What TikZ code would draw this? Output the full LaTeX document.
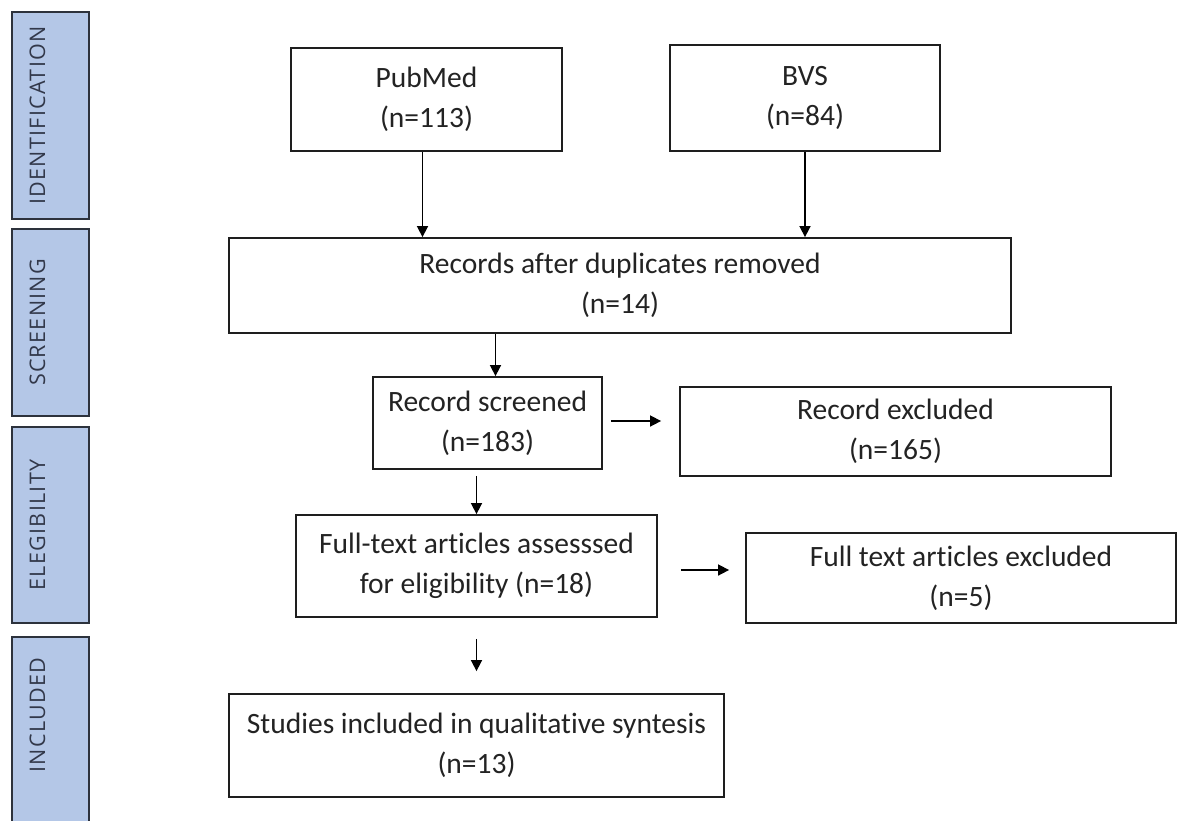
\documentclass[tikz,border=0pt]{standalone}
\usepackage{fontspec}
\setmainfont{Carlito}[Ligatures=NoCommon]
\newfontfamily\etapafont[LetterSpace=6]{Open Sans}
\usetikzlibrary{arrows.meta}
\begin{document}
\begin{tikzpicture}[x=1pt,y=-1pt,
	caja/.style={draw=vienhop,line width=1.8pt,rectangle,inner sep=0pt,align=center,text=chuxam,font=\fontsize{29.5}{40}\selectfont},
	etapa/.style={draw=vienthe,fill=xanhbang,line width=1.8pt,rectangle,inner sep=0pt,minimum width=77pt},
	etapatxt/.style={rotate=90,inner sep=0pt,text=chuthe,font=\etapafont\fontsize{21.5}{24}\selectfont},
	flecha/.style={line width=1.6pt,-{Triangle[width=11pt,length=11pt]}}]
	\definecolor{xanhbang}{RGB}{180,199,231}
	\definecolor{vienthe}{RGB}{45,50,60}
	\definecolor{chuthe}{RGB}{50,56,74}
	\definecolor{vienhop}{RGB}{30,30,30}
	\definecolor{chuxam}{RGB}{35,35,35}
	
	\useasboundingbox[fill=white] (0,0) rectangle (1179,820);
	
	%Etapas
	\node[etapa,minimum height=207pt] (ident) at (50.5,115.5) {};
	\node[etapa,minimum height=187pt] (cribado) at (50.5,322.5) {};
	\node[etapa,minimum height=196pt] (eleg) at (50.5,525) {};
	\node[etapa,minimum height=196pt] (incl) at (50.5,735) {};
	\node[etapatxt] at ([xshift=-13pt]ident.center) {IDENTIFICATION};
	\node[etapatxt] at ([xshift=-13pt]cribado.center) {SCREENING};
	\node[etapatxt] at ([xshift=-13pt]eleg.center) {ELEGIBILITY};
	\node[etapatxt] at ([xshift=-13pt,yshift=20pt]incl.center) {INCLUDED};
	
	%Cajas
	\node[caja,minimum width=271pt,minimum height=103pt] (pubmed) at (426.5,99.5) {PubMed\\(n=113)};
	\node[caja,minimum width=270pt,minimum height=106pt] (bvs) at (805,98) {BVS\\(n=84)};
	\node[caja,minimum width=782pt,minimum height=95pt] (registros) at (620,285.5) {Records after duplicates removed\\(n=14)};
	\node[caja,minimum width=229pt,minimum height=92pt] (tamizados) at (487.5,423) {Record screened\\(n=183)};
	\node[caja,minimum width=431pt,minimum height=89pt] (excluidos) at (895.5,431.5) {Record excluded\\(n=165)};
	\node[caja,minimum width=361pt,minimum height=102pt] (texto) at (476.5,566) {Full-text articles assesssed\\for eligibility (n=18)};
	\node[caja,minimum width=430pt,minimum height=90pt] (textoexcl) at (961,578) {Full text articles excluded\\(n=5)};
	\node[caja,minimum width=495pt,minimum height=103pt] (incluidos) at (476.5,745.5) {Studies included in qualitative syntesis\\(n=13)};
	
	%Flechas
	\draw[flecha] ([xshift=-4pt]pubmed.south) -- ([xshift=-4pt]pubmed.south |- registros.north);
	\draw[flecha] (bvs.south) -- (bvs.south |- registros.north);
	\draw[flecha] ([xshift=8pt]tamizados.north |- registros.south) -- ([xshift=8pt]tamizados.north);
	\draw[flecha,shorten <=8pt,shorten >=18pt] ([yshift=2pt]tamizados.east) -- ([yshift=2pt]tamizados.east -| excluidos.west);
	\draw[flecha,shorten <=6pt] (tamizados.south -| texto.north) -- (texto.north);
	\draw[flecha,shorten <=23pt,shorten >=16pt] ([yshift=-4pt]texto.east) -- ([yshift=-4pt]texto.east -| textoexcl.west);
	\draw[flecha,shorten <=21pt,shorten >=22pt] (texto.south) -- (texto.south |- incluidos.north);
\end{tikzpicture}
\end{document}
